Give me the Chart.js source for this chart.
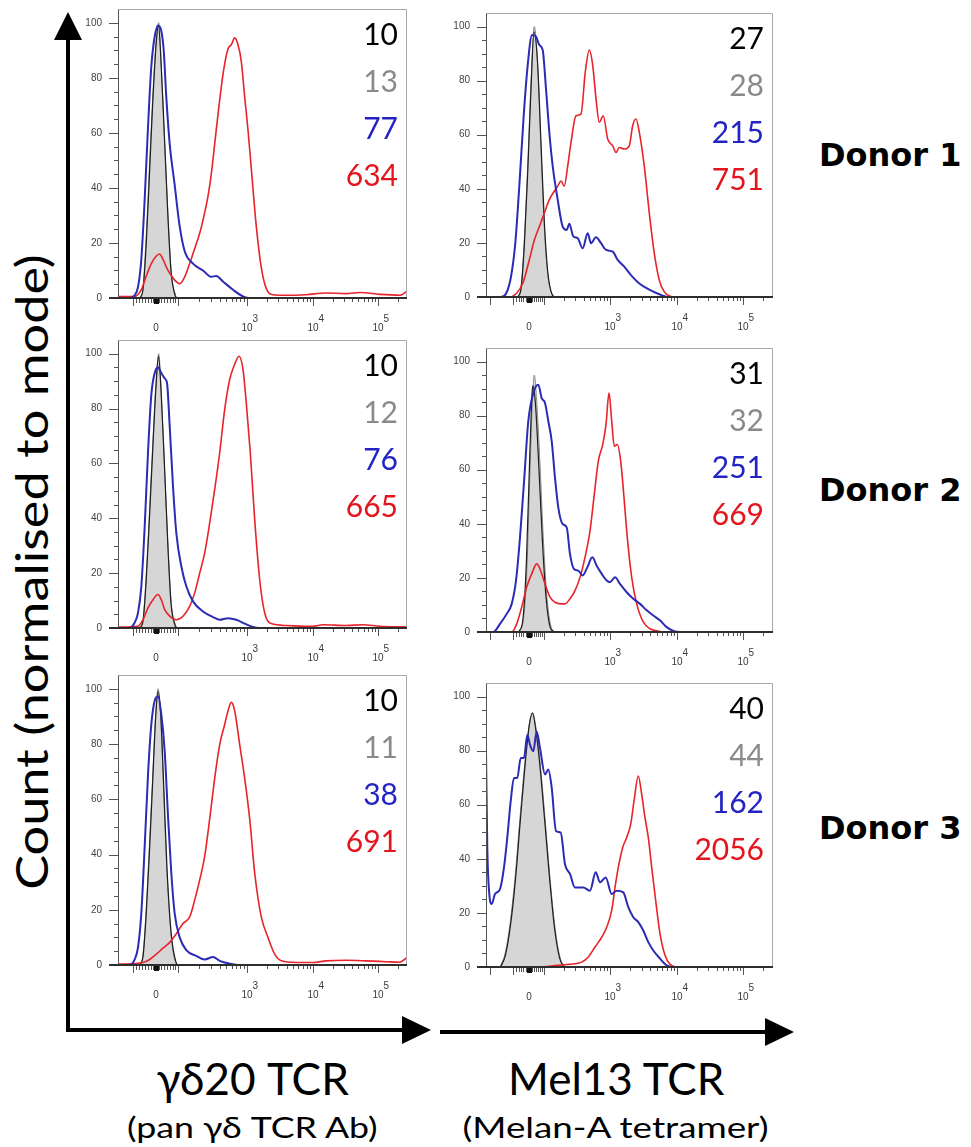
<!DOCTYPE html>
<html>
<head>
<meta charset="utf-8">
<script src="https://cdn.jsdelivr.net/npm/chart.js@4.4.1/dist/chart.umd.min.js"></script>
<style>
  body { margin: 0; background: #fff; }
  #page { position: relative; width: 971px; height: 1147px; overflow: hidden; font-family: Lato, "Open Sans", sans-serif; }
  canvas { position: absolute; }
  .mfi { position: absolute; width: 120px; height: 30px; font-size: 30px; line-height: 30px; text-align: right; white-space: nowrap; }
  .donor { position: absolute; font-family: "DejaVu Sans", sans-serif; font-weight: bold; font-size: 32px; line-height: 32px; white-space: nowrap; }
  .big { position: absolute; font-size: 44px; line-height: 44px; white-space: nowrap; transform-origin: center; }
  .sub { position: absolute; font-size: 28px; line-height: 28px; white-space: nowrap; transform-origin: center; }
</style>
</head>
<body>
<div id="page">
  <svg width="971" height="1147" style="position:absolute;left:0;top:0">
    <line x1="68" y1="1032" x2="68" y2="36" stroke="#000" stroke-width="4"/>
    <polygon points="68,12 54,40 82,40" fill="#000"/>
    <line x1="66" y1="1030" x2="405" y2="1030" stroke="#000" stroke-width="4"/>
    <polygon points="431,1030 402,1016 402,1044" fill="#000"/>
    <line x1="440" y1="1032" x2="768" y2="1032" stroke="#000" stroke-width="4"/>
    <polygon points="794,1032 765,1018 765,1046" fill="#000"/>
  </svg>
</div>
<script>
// x values are display channels along the biexponential axis, y is % of mode

// γδ20 TCR (pan γδ TCR Ab)
const gd1Gray  = [[22,0],[25,4],[28.3,23.5],[31.7,50],[35,75],[38.3,94],[40.7,100],[43.3,84],[46.7,56],[50,30],[53.3,9],[58.3,0]];
const gd1Black = [[22,0],[25,3],[28.3,20],[31.7,47],[35,73],[38.3,93],[40.5,99],[43,86],[46.5,58],[50,29],[53,10],[57,1],[59,0]];
const gd1Blue  = [[0,0],[11.7,0],[16.7,1],[20,4],[23.3,14],[26.7,36],[30,62],[33.3,84],[36.7,95],[40,99],[43.3,97],[45.7,90],[48.3,73],[51.7,56],[56.7,41],[61.7,26],[66.7,17],[75,12.5],[85,10],[93.3,7.7],[98.3,8],[105,6],[115,3],[125,0.6],[131.7,0],[289,0]];
const gd1Red   = [[0,0.5],[16.7,0.5],[23.3,3],[28.3,8],[33.3,12.5],[37.7,15],[41.7,16],[45,14],[50,10],[56.7,6.5],[61.7,5.2],[66.7,7.7],[71.7,12.5],[76.7,18],[81.7,23.5],[86.7,31],[90,37],[93.3,45],[96.7,56],[101.7,72],[105.7,83],[110,90.5],[113.3,92],[116.7,94.5],[120,92],[123.3,86],[126.7,73],[130,61],[133.3,47],[138.3,26],[143.3,11],[148.3,3.4],[155,1.2],[168,1],[188,1.2],[208,1.8],[228,1.6],[242,2],[262,1.3],[282,1],[289,2.5]];

const gd2Gray  = [[21.7,0],[25,3],[28.3,20],[31.7,44],[35,69],[38.3,91],[40.7,100],[43.3,85],[46.7,57],[50,30],[53.3,9],[58.3,0]];
const gd2Black = [[21.7,0],[25,2.5],[28.3,18],[31.7,42],[35,67],[38.3,90],[40.5,99],[43,87],[46.5,59],[50,29],[53,9],[57,1],[59,0]];
const gd2Blue  = [[0,0],[11.7,0],[16.7,2],[20,5.5],[23.3,15],[26.7,37],[30,64],[33.3,85],[36.7,93],[40,95],[43.3,93],[46.7,91],[49,89.4],[51.7,73.6],[55,51.7],[58.3,34.7],[63.3,22.5],[68.3,15.2],[75,9.7],[85,6],[95,4],[101.7,3],[110,3.6],[118.3,3],[126.7,1.6],[133.3,0.6],[141.7,0],[289,0]];
const gd2Red   = [[0,0.3],[20,0.6],[25,3],[30,7.3],[35,10.3],[40,12.2],[43.3,10.3],[46.7,6.7],[51.7,4.3],[58.3,3],[65,4.3],[71.7,7.9],[76.7,12.8],[81.7,20],[86.7,27.4],[91.7,38.3],[96.7,50.5],[101.7,63.9],[106.7,79.7],[111.7,90.6],[116,95.5],[121,99.1],[125,94.3],[128.3,82],[132.3,63.9],[136.7,39.5],[141.7,17.6],[146.7,5.5],[153.3,1.6],[168.3,0.9],[195,0.6],[205,1.2],[228.3,0.9],[245,1.2],[261.7,0.6],[289,0.4]];

const gd3Gray  = [[21.7,0],[25,4],[28.3,21],[31.7,45.5],[35,71],[37.7,91],[40,100],[42.7,89.6],[45.7,62.7],[49,33],[53.3,10],[58.3,0.5],[60.7,0]];
const gd3Black = [[21.7,0],[25,3],[28.3,19],[31.7,43],[35,69],[37.7,90],[40,99],[42.7,91],[45.7,65],[49,35],[53.3,11],[58,1],[60,0]];
const gd3Blue  = [[0,0],[11.7,0],[16.7,2],[20,6.4],[23.3,18.6],[26.7,43],[30,68.8],[33.3,87],[36.7,95.7],[40,97.2],[43.3,90.8],[46.7,77.4],[50,54],[53.3,33.3],[56.7,18.6],[61.7,10],[68.3,5.4],[78.3,3.3],[86.7,2],[95,2.9],[101.7,1.5],[111.7,0.5],[121.7,0],[289,0]];
const gd3Red   = [[0,0.3],[25,0.9],[31.7,2],[38.3,3.9],[45,6.1],[51.7,8.2],[58.3,11.3],[65,15],[71.7,17.4],[76.7,23.5],[81.7,30.8],[86.7,39.4],[91.7,52.9],[96.7,67.6],[101.7,79.8],[106.7,87.1],[110,92],[113.3,95.1],[116.7,92],[121.7,79.8],[126.7,67.6],[131.7,52.9],[136.7,33.3],[143.3,17.4],[150,10],[156.7,3.9],[163.3,1.5],[178.3,0.9],[195,0.9],[208.3,1.5],[228.3,1.7],[248.3,1.5],[268.3,1.2],[281.7,1],[289,2.7]];

// Mel13 TCR (Melan-A tetramer)
const mel1Gray  = [[31.7,0],[35,3.7],[38.3,21],[41.7,48.4],[45,79.5],[48.3,100],[51.7,85.7],[55,54.7],[58.3,26],[61.7,8.7],[66.7,0.6],[69.3,0]];
const mel1Black = [[31.7,0],[35,3],[38.3,19],[41.7,46],[45,77],[48,98],[51.5,87],[55,57],[58.3,28],[61.7,9.5],[66,1],[69,0]];
const mel1Blue  = [[0,0],[15,0],[20,1.2],[25,7.5],[29.3,19.9],[33.3,41],[37.7,67],[41.7,85.7],[46,96.9],[50,96.3],[53.3,93.2],[56.7,91.3],[60,77],[63.3,60.9],[66.7,48.4],[71.7,36],[76.7,26],[80.7,24.8],[83.3,27.1],[87.3,22.4],[91.7,21.7],[96.7,18],[101.7,23.6],[105,19.9],[110,22.1],[115,19.9],[120,17.4],[126.7,16.8],[131.7,13.7],[138.3,11.2],[145,8.1],[153.3,5],[163.3,2.7],[173.3,1],[183.3,0],[287,0]];
const mel1Red   = [[0,0],[23.3,0],[30,1.2],[36.7,5],[43.3,13.7],[48.3,21],[53.3,26],[58.3,31],[63.3,36],[68.3,39.1],[71.7,41],[75,42.9],[78.3,41],[81.7,48.4],[85,57.1],[90,67],[95,67.7],[99.3,83.2],[103.3,91.3],[106.7,85.7],[110,73.3],[113.3,64.6],[117.3,67],[121.7,58.4],[126.7,55.9],[130,53.4],[133.3,55.3],[138.3,54.7],[143.3,55.9],[146.7,63.4],[150,65.8],[153.3,60.9],[158.3,48.4],[163.3,31],[168.3,16.1],[173.3,6.2],[178.3,1.9],[185,0.2],[190,0],[287,0]];

const mel2Gray  = [[33.3,0],[37.3,4.3],[40.7,21.5],[44,59.5],[46.7,87.7],[48.3,95],[50.7,85.3],[54,62],[57.3,35],[60.7,14.1],[64.7,2.5],[69,0]];
const mel2Black = [[33,0],[37,5],[40.3,25],[43.5,62],[46,88],[47,91],[49.5,84],[53,60],[56.5,33],[60,13],[64,2],[68,0]];
const mel2Blue  = [[0,0],[7.3,0],[14,3],[20.7,6.7],[25.7,10.4],[30,19],[34,35],[38.3,57],[42.3,78],[47.3,88.3],[52.3,91.4],[55.7,86.5],[59,84.7],[62.3,78],[65.7,70.6],[69,57],[72.3,46],[76.7,39.9],[80.7,38.7],[84,28.8],[88,23.3],[92.3,22.7],[96.7,20.9],[101.3,23.9],[106.3,27.6],[110.7,24.5],[115.7,21.5],[120.7,19],[124,18.4],[129,20.2],[134,17.8],[140.7,14.7],[147.3,12.3],[154,10.4],[160.7,8],[167.3,6.1],[174,4.3],[180.7,1.8],[187.3,0.4],[194,0],[287,0]];
const mel2Red   = [[0,0],[25.7,0],[30.7,3],[35.7,9.2],[40.7,16.6],[45.7,21.5],[50.7,25.2],[54,23.3],[59,17.8],[64,12.9],[69,11],[74.7,10.4],[79,10.4],[84,12.3],[89,15.3],[94,20.2],[99,27.6],[104,37.4],[108.3,50.9],[112.3,63.2],[116.7,69.3],[120,76.7],[123,88.3],[125.7,78],[128.3,68.7],[131.3,69.3],[134.7,63.2],[138,49.7],[141.3,35],[145.7,20.2],[150.7,10.4],[157.3,3.7],[164,1.2],[174,0.2],[180,0],[287,0]];

const mel3Gray  = [[14,0],[19,4.9],[24,16],[29,33],[34,55.2],[39,76],[43.3,89.6],[46.7,93.9],[50,88.3],[54,76],[59,55.2],[64,33],[69,14.7],[74,3.7],[79,0.2],[82.3,0]];
const mel3Black = [[14.5,0],[19.5,4.5],[24.5,15.5],[29.5,32.5],[34.5,55],[39.5,76.5],[43.5,90],[46.5,94],[49.5,88.5],[53.5,76],[58.5,55],[63.5,33],[68.5,14.5],[73.5,3.5],[78.5,0.2],[82,0]];
const mel3Blue  = [[0,79.8],[1.3,44],[3.3,27],[5.7,23.3],[9,27],[14,28.8],[18,36.8],[21.3,47.9],[24.7,61.3],[28,69.9],[31.3,69.9],[34.7,77.3],[38,77.3],[41.3,85.9],[44,82.2],[47.3,79.8],[50.7,87.1],[54,81],[59,71.2],[62.3,73],[65.7,66.3],[70,50.3],[74.7,49.7],[79,38],[84,34.4],[89,29.4],[97.3,29.4],[104,28.2],[109.7,35],[114,31.3],[119.7,33.1],[125.7,27],[130.7,28.2],[137.3,27.6],[142.3,22.1],[147.3,18.4],[152.3,16.6],[157.3,13.5],[162.3,9.2],[167.3,6.1],[174,3.1],[180.7,0.6],[185.7,0],[287,0]];
const mel3Red   = [[0,0],[10.7,0],[60.7,0.2],[70.7,0.6],[84,1],[95.7,1.8],[102.3,3.7],[109,7.4],[115.7,11],[120.7,14.7],[125.7,20.9],[129,29.4],[132.3,36.8],[136.7,44.2],[140.7,47.9],[144.7,52.8],[148,61.3],[152.3,70.6],[155.7,63.8],[159,55.2],[162.3,47.9],[165.7,36.8],[169.7,24.5],[174,12.3],[179,4.3],[184,1],[190.7,0],[287,0]];

// MFI values printed in each panel: black, grey, blue, red
const mfiGd1 = [10, 13, 77, 634];
const mfiGd2 = [10, 12, 76, 665];
const mfiGd3 = [10, 11, 38, 691];
const mfiMel1 = [27, 28, 215, 751];
const mfiMel2 = [31, 32, 251, 669];
const mfiMel3 = [40, 44, 162, 2056];
const mfiColors = ['#000000', '#8a8a8a', '#2424c4', '#e2161c'];

// axis ticks
const yLabelTicks = [0, 20, 40, 60, 80, 100];
const yMinorTicks = [0, 5, 10, 15, 20, 25, 30, 35, 40, 45, 50, 55, 60, 65, 70, 75, 80, 85, 90, 95, 100];
// two-line labels: raised exponent above, base below
const xTickText = [['', '0'], ['      3', '10'], ['      4', '10'], ['      5', '10']];
const gdLabelPos = [38, 129, 195, 260];
const melLabelPos = [43, 124, 191, 257];
const gdDecades = [60, 129, 195, 260];
const melDecades = [58, 124, 191, 257];
const gdLinTicks = [15, 18, 21, 24, 27, 30, 33, 35, 41, 43, 46, 49, 52, 55, 57];
const melLinTicks = [4, 27, 30, 33, 35, 37, 40, 46, 48, 50, 52, 54, 56];

const gdAxis = { xMax: 289, labelPos: gdLabelPos, decades: gdDecades, lin: gdLinTicks, longLin: [15], zero: 38 };
const melAxis = { xMax: 287, labelPos: melLabelPos, decades: melDecades, lin: melLinTicks, longLin: [4, 27], zero: 43 };

const PAD_L = 40, PAD_T = 2, PAD_R = 4, PAD_B = 45;
const page = document.getElementById('page');

function makeFrame(col) {
  return {
    id: 'frameTicks',
    afterDatasetsDraw(chart) {
      const { ctx, chartArea: a } = chart;
      const x = chart.scales.x, y = chart.scales.y;
      const line = (x1, y1, x2, y2) => { ctx.beginPath(); ctx.moveTo(x1, y1); ctx.lineTo(x2, y2); ctx.stroke(); };
      ctx.save();
      ctx.lineWidth = 1;
      ctx.strokeStyle = '#a8a8a8';
      ctx.beginPath();
      ctx.moveTo(a.left + 0.5, a.top + 0.5);
      ctx.lineTo(a.right - 0.5, a.top + 0.5);
      ctx.lineTo(a.right - 0.5, a.bottom);
      ctx.stroke();
      ctx.strokeStyle = '#555';
      line(a.left + 0.5, a.top + 0.5, a.left + 0.5, a.bottom);
      yMinorTicks.forEach(v => {
        const py = Math.round(y.getPixelForValue(v)) + 0.5;
        line(a.left - (v % 20 === 0 ? 9 : 4), py, a.left, py);
      });
      const bx = a.bottom;
      const tick = (v, len) => {
        if (v < x.min || v > x.max) return;
        const px = Math.round(x.getPixelForValue(v)) + 0.5;
        line(px, bx, px, bx + len);
      };
      col.lin.forEach(v => tick(v, col.longLin.includes(v) ? 8 : 5));
      col.decades.forEach((d, i) => {
        tick(d, 8);
        const next = i < col.decades.length - 1 ? col.decades[i + 1] : 2 * d - col.decades[i - 1];
        for (let k = 2; k <= 9; k++) tick(d + (next - d) * Math.log10(k), 4);
      });
      ctx.fillStyle = '#111';
      ctx.fillRect(Math.round(x.getPixelForValue(col.zero)) - 2, bx + 1, 5, 5);
      ctx.strokeStyle = '#2e2e2e';
      ctx.lineWidth = 2;
      line(a.left - 9, bx, a.right, bx);
      ctx.restore();
    }
  };
}

function addPanel(p) {
  const [left, top, w, h] = p.box;
  const c = document.createElement('canvas');
  c.width = w + PAD_L + PAD_R;
  c.height = h + PAD_T + PAD_B;
  c.style.left = (left - PAD_L) + 'px';
  c.style.top = (top - PAD_T) + 'px';
  page.appendChild(c);
  const [g, k, b, r] = p.series;
  new Chart(c, {
    type: 'line',
    data: {
      datasets: [
        { data: g, fill: 'origin', backgroundColor: '#d6d6d6', borderColor: '#8a8a8a', borderWidth: 1, order: 4 },
        { data: k, borderColor: '#1e1e1e', borderWidth: 1.2, order: 3 },
        { data: r, borderColor: '#e8232a', borderWidth: 1.6, order: 2 },
        { data: b, borderColor: '#2b2bb5', borderWidth: 2, order: 1 }
      ]
    },
    options: {
      responsive: false,
      animation: false,
      devicePixelRatio: 1,
      layout: { padding: { top: PAD_T, right: PAD_R, left: 0, bottom: 0 } },
      elements: { point: { radius: 0 }, line: { cubicInterpolationMode: 'monotone' } },
      plugins: { legend: { display: false }, tooltip: { enabled: false } },
      scales: {
        x: {
          type: 'linear', min: 0, max: p.col.xMax,
          grid: { display: false, drawTicks: false },
          border: { display: false },
          afterBuildTicks: s => { s.ticks = p.col.labelPos.map(v => ({ value: v })); },
          afterFit: s => { s.height = PAD_B; s.paddingLeft = 0; s.paddingRight = 0; },
          ticks: {
            autoSkip: false, maxRotation: 0, minRotation: 0, padding: 17,
            color: '#3a3a3a', font: { family: 'Liberation Sans', size: 10, lineHeight: 0.9 },
            callback: (v, i) => xTickText[i]
          }
        },
        y: {
          min: 0, max: 105,
          grid: { display: false, drawTicks: false },
          border: { display: false },
          afterBuildTicks: s => { s.ticks = yLabelTicks.map(v => ({ value: v })); },
          afterFit: s => { s.width = PAD_L; s.paddingTop = 0; s.paddingBottom = 0; },
          ticks: { padding: 16, color: '#444', font: { family: 'Liberation Sans', size: 10 } }
        }
      }
    },
    plugins: [makeFrame(p.col)]
  });

  p.mfi.forEach((v, i) => {
    const d = document.createElement('div');
    d.className = 'mfi';
    d.textContent = v;
    d.style.color = mfiColors[i];
    d.style.left = (left + w - 9 - 120) + 'px';
    d.style.top = (top + 25 + i * 47 - 16) + 'px';
    page.appendChild(d);
  });
}

const panels = [
  { box: [118, 9, 289, 289], col: gdAxis, series: [gd1Gray, gd1Black, gd1Blue, gd1Red], mfi: mfiGd1 },
  { box: [486, 13, 287, 284], col: melAxis, series: [mel1Gray, mel1Black, mel1Blue, mel1Red], mfi: mfiMel1 },
  { box: [118, 340, 289, 288], col: gdAxis, series: [gd2Gray, gd2Black, gd2Blue, gd2Red], mfi: mfiGd2 },
  { box: [486, 348, 287, 284], col: melAxis, series: [mel2Gray, mel2Black, mel2Blue, mel2Red], mfi: mfiMel2 },
  { box: [118, 675, 289, 290], col: gdAxis, series: [gd3Gray, gd3Black, gd3Blue, gd3Red], mfi: mfiGd3 },
  { box: [486, 683, 287, 284], col: melAxis, series: [mel3Gray, mel3Black, mel3Blue, mel3Red], mfi: mfiMel3 }
];
panels.forEach(addPanel);

// row labels
[['Donor 1', 155], ['Donor 2', 490], ['Donor 3', 828]].forEach(([t, cy]) => {
  const d = document.createElement('div');
  d.className = 'donor';
  d.textContent = t;
  d.style.left = '819px';
  d.style.top = (cy - 16) + 'px';
  page.appendChild(d);
});

// axis titles, stretched to the width they take in the figure
function placeText(txt, cls, cx, cy, target, rotate) {
  const el = document.createElement('div');
  el.className = cls;
  el.textContent = txt;
  page.appendChild(el);
  const w = el.offsetWidth, h = el.offsetHeight;
  el.style.left = (cx - w / 2) + 'px';
  el.style.top = (cy - h / 2) + 'px';
  el.style.transform = (rotate ? 'rotate(-90deg) ' : '') + 'scaleX(' + (target / w).toFixed(3) + ')';
}
placeText('Count (normalised to mode)', 'big', 30, 572, 635, true);
placeText('γδ20 TCR', 'big', 252, 1078, 192, false);
placeText('(pan γδ TCR Ab)', 'sub', 252, 1127, 250, false);
placeText('Mel13 TCR', 'big', 616, 1078, 216, false);
placeText('(Melan-A tetramer)', 'sub', 615, 1127, 306, false);
</script>
</body>
</html>
